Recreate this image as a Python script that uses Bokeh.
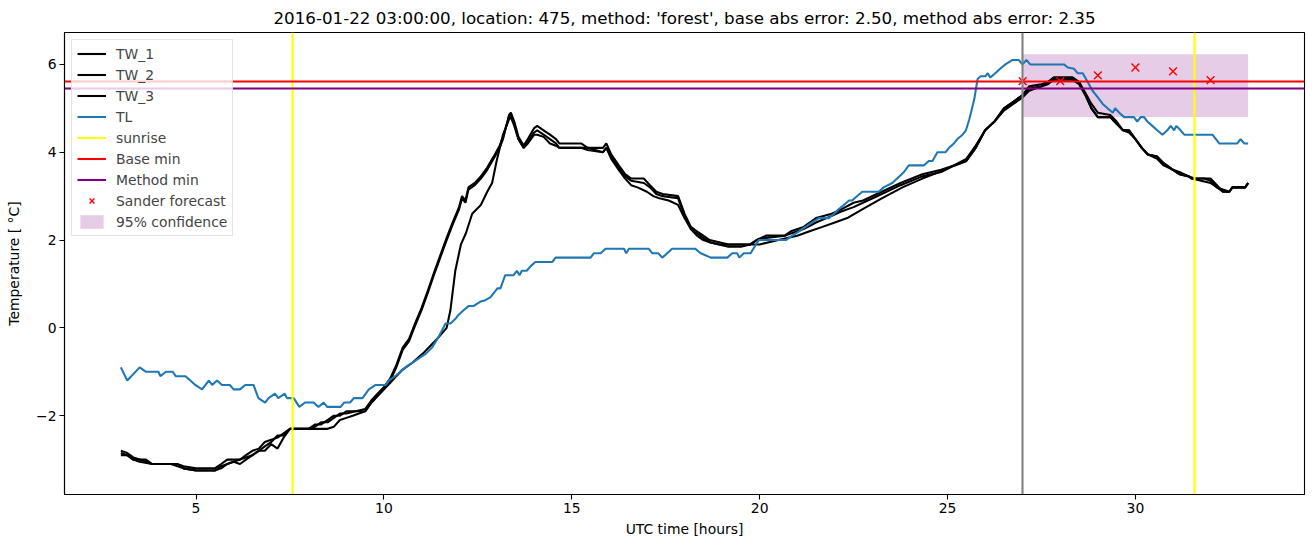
from bokeh.plotting import figure
from bokeh.models import Range1d, FixedTicker, Legend, LegendItem
from bokeh.embed import file_html
from bokeh.resources import INLINE

TITLE = ("2016-01-22 03:00:00, location: 475, method: 'forest', "
         "base abs error: 2.50, method abs error: 2.35")

# ---- data ----
tl_hours = [3.0, 3.17, 3.5, 3.67, 4.0, 4.05, 4.2, 4.38, 4.46, 4.72, 4.85, 4.98, 5.16, 5.34, 5.43,
            5.56, 5.69, 5.9, 6.0, 6.17, 6.31, 6.53, 6.66, 6.84, 6.93, 7.1, 7.19, 7.36, 7.42, 7.6,
            7.75, 7.9, 8.13, 8.26, 8.4, 8.49, 8.85, 8.94, 9.1, 9.2, 9.43, 9.6, 9.78, 10.05, 10.13,
            10.3, 10.57, 10.75, 10.92, 11.1, 11.28, 11.46, 11.64, 11.77, 11.9, 11.99, 12.12, 12.26,
            12.39, 12.57, 12.7, 12.84, 13.02, 13.1, 13.23, 13.45, 13.54, 13.61, 13.67, 13.8, 13.9,
            14.03, 14.48, 14.57, 15.5, 15.59, 15.77, 15.9, 16.39, 16.45, 16.52, 17.05, 17.14, 17.3,
            17.41, 17.54, 17.67, 18.29, 18.43, 18.7, 19.14, 19.27, 19.4, 19.46, 19.58, 19.76, 19.9,
            19.98, 20.7, 20.87, 21.05, 21.22, 21.4, 21.58, 21.84, 21.98, 22.1, 22.24, 22.38, 22.46,
            22.73, 23.17, 23.3, 23.53, 23.66, 23.84, 23.97, 24.37, 24.5, 24.6, 24.73, 24.95, 25.04,
            25.17, 25.26, 25.4, 25.49, 25.58, 25.71, 25.8, 25.88, 26.01, 26.07, 26.14, 26.27, 26.4,
            26.54, 26.72, 26.9, 26.99, 27.1, 27.2, 28.1, 28.2, 28.37, 28.46, 28.6, 28.73, 28.86,
            29.0, 29.13, 29.26, 29.4, 29.46, 29.57, 29.7, 29.96, 30.05, 30.14, 30.23, 30.32, 30.45,
            30.58, 30.72, 30.85, 30.94, 31.03, 31.09, 31.2, 31.3, 32.05, 32.23, 32.71, 32.8, 32.9,
            33.0]
tl_temp = [-0.9, -1.2, -0.9, -1.0, -1.0, -1.1, -1.0, -1.0, -1.1, -1.1, -1.2, -1.3, -1.4, -1.2, -1.3,
           -1.2, -1.3, -1.3, -1.4, -1.4, -1.3, -1.3, -1.6, -1.7, -1.6, -1.5, -1.6, -1.5, -1.6, -1.6,
           -1.8, -1.7, -1.7, -1.8, -1.7, -1.8, -1.8, -1.7, -1.7, -1.6, -1.6, -1.4, -1.3, -1.3, -1.2,
           -1.1, -0.9, -0.8, -0.7, -0.6, -0.45, -0.2, 0.1, 0.1, 0.2, 0.3, 0.4, 0.5,
           0.5, 0.6, 0.63, 0.7, 0.9, 0.9, 1.2, 1.2, 1.3, 1.2, 1.3, 1.3, 1.4,
           1.5, 1.5, 1.6, 1.6, 1.7, 1.7, 1.8, 1.8, 1.7, 1.8, 1.8, 1.7, 1.7,
           1.6, 1.7, 1.8, 1.8, 1.7, 1.6, 1.6, 1.7, 1.7, 1.6, 1.7, 1.7, 1.9,
           2.0, 2.0, 2.1, 2.2, 2.3, 2.4, 2.5, 2.5, 2.6, 2.7, 2.8, 2.9, 2.9,
           3.1, 3.1, 3.2, 3.3, 3.4, 3.55, 3.7, 3.7, 3.8, 3.8, 4.0, 4.0, 4.1,
           4.2, 4.3, 4.4, 4.5, 4.75, 5.2, 5.67, 5.73, 5.73, 5.8, 5.7, 5.8, 5.9,
           6.0, 6.1, 6.1, 6.0, 6.1, 6.0, 6.0, 5.93, 5.9, 5.8, 5.8, 5.6, 5.4,
           5.25, 5.1, 5.0, 4.9, 5.0, 4.9, 4.8, 4.8, 4.7, 4.8, 4.8, 4.7, 4.6,
           4.5, 4.4, 4.5, 4.6, 4.5, 4.6, 4.5, 4.4, 4.4, 4.2, 4.2, 4.3, 4.2,
           4.2]

tw1_hours = [3.0, 3.17, 3.33, 3.5, 3.67, 3.83, 4.17, 4.5, 4.67, 5.0, 5.33, 5.5, 5.67, 5.83, 6.17,
             6.33, 6.5, 6.67, 6.83, 7.0, 7.17, 7.33, 7.5, 8.0, 8.17, 8.33, 8.5, 8.67, 8.83, 9.0,
             9.5, 9.67, 9.83, 10.0, 10.17, 10.33, 10.5, 10.67, 10.83, 11.0, 11.17, 11.33, 11.5,
             11.67, 11.83, 12.0, 12.08, 12.17, 12.25, 12.42, 12.58, 12.75, 12.92, 13.08, 13.17,
             13.33, 13.38, 13.47, 13.58, 13.72, 13.83, 14.0, 14.08, 14.25, 14.42, 14.58, 14.67,
             15.25, 15.42, 15.83, 15.92, 16.05, 16.25, 16.42, 16.58, 16.92, 17.08, 17.25, 17.42,
             17.83, 18.0, 18.17, 18.33, 18.5, 18.67, 18.92, 19.17, 19.75, 19.92, 20.17, 20.67,
             20.83, 21.17, 21.5, 21.92, 22.17, 22.5, 22.75, 23.25, 23.75, 24.33, 24.83, 25.17,
             25.5, 25.75, 26.0, 26.25, 26.5, 26.75, 27.0, 27.17, 27.5, 27.67, 27.83, 28.33, 28.5,
             28.67, 28.83, 29.0, 29.33, 29.5, 29.67, 29.83, 30.0, 30.17, 30.33, 30.58, 30.75,
             31.0, 31.17, 31.42, 31.5, 31.75, 32.0, 32.17, 32.33, 32.5, 32.58, 32.92, 33.0]
tw1_temp = [-2.8, -2.85, -2.95, -3.0, -3.05, -3.1, -3.1, -3.1, -3.15, -3.2, -3.2, -3.2, -3.1, -3.0, -3.0,
            -2.9, -2.8, -2.75, -2.6, -2.55, -2.5, -2.4, -2.3, -2.3, -2.2, -2.2, -2.1, -2.0, -2.0, -1.9,
            -1.9, -1.7, -1.55, -1.4, -1.2, -0.9, -0.5, -0.3, 0.05, 0.4, 0.8, 1.2, 1.6,
            2.0, 2.35, 2.7, 2.95, 2.85, 3.15, 3.25, 3.4, 3.6, 3.85, 4.1, 4.3,
            4.85, 4.9, 4.7, 4.35, 4.15, 4.3, 4.55, 4.6, 4.5, 4.4, 4.3, 4.2,
            4.2, 4.1, 4.1, 4.2, 3.95, 3.7, 3.5, 3.4, 3.4, 3.25, 3.1, 3.05,
            3.0, 2.6, 2.3, 2.2, 2.1, 2.0, 1.95, 1.9, 1.9, 2.0, 2.1, 2.1,
            2.2, 2.3, 2.5, 2.6, 2.7, 2.85, 2.9, 3.1, 3.3, 3.5, 3.6, 3.7,
            3.8, 4.1, 4.5, 4.7, 5.0, 5.15, 5.3, 5.5, 5.55, 5.6, 5.7, 5.7, 5.6,
            5.35, 5.1, 4.9, 4.85, 4.7, 4.5, 4.5, 4.3, 4.1, 3.95, 3.9, 3.75,
            3.6, 3.5, 3.45, 3.4, 3.4, 3.4, 3.25, 3.1, 3.1, 3.2, 3.2, 3.3]

tw2_hours = [3.0, 3.17, 3.33, 3.67, 3.83, 4.5, 4.67, 5.0, 5.5, 5.67, 5.83, 6.0, 6.17, 6.5, 6.67,
             6.83, 7.0, 7.17, 7.33, 7.5, 8.0, 8.17, 8.33, 8.5, 8.67, 8.83, 9.0, 9.5, 9.67, 9.83,
             10.0, 10.17, 10.33, 10.5, 10.67, 10.83, 11.0, 11.17, 11.33, 11.5, 11.67, 11.83, 12.0,
             12.08, 12.17, 12.25, 12.42, 12.58, 12.75, 12.92, 13.08, 13.17, 13.33, 13.38, 13.47,
             13.58, 13.72, 13.83, 14.0, 14.08, 14.25, 14.42, 14.58, 14.67, 15.25, 15.42, 15.83,
             15.92, 16.05, 16.25, 16.42, 16.58, 16.92, 17.08, 17.25, 17.42, 17.83, 18.0, 18.17,
             18.33, 18.5, 18.67, 18.92, 19.17, 19.5, 19.75, 19.92, 20.17, 20.67, 20.83, 21.17,
             21.5, 21.92, 22.17, 22.5, 22.75, 23.25, 23.75, 24.33, 24.83, 25.17, 25.5, 25.75,
             26.0, 26.25, 26.5, 26.75, 27.0, 27.17, 27.5, 27.67, 27.83, 28.33, 28.5, 28.67, 28.83,
             29.0, 29.33, 29.5, 29.67, 29.83, 30.0, 30.17, 30.33, 30.58, 30.75, 31.0, 31.17,
             31.42, 31.5, 31.75, 32.0, 32.17, 32.33, 32.5, 32.58, 32.92, 33.0]
tw2_temp = [-2.85, -2.9, -3.0, -3.0, -3.1, -3.1, -3.2, -3.25, -3.25, -3.15, -3.1, -3.05, -3.0, -2.9, -2.8,
            -2.7, -2.6, -2.45, -2.45, -2.3, -2.3, -2.25, -2.15, -2.15, -2.05, -1.95, -1.95, -1.85, -1.65, -1.5,
            -1.35, -1.15, -0.85, -0.45, -0.25, 0.1, 0.45, 0.85, 1.25, 1.65, 2.05, 2.4, 2.75,
            3.0, 2.9, 3.2, 3.3, 3.45, 3.65, 3.9, 4.15, 4.35, 4.8, 4.85, 4.65,
            4.3, 4.1, 4.25, 4.45, 4.5, 4.4, 4.3, 4.2, 4.1, 4.1, 4.1, 4.0,
            4.1, 3.9, 3.65, 3.45, 3.35, 3.3, 3.2, 3.05, 3.0, 2.95, 2.55, 2.25,
            2.15, 2.05, 1.95, 1.9, 1.85, 1.85, 1.9, 2.0, 2.05, 2.1, 2.15, 2.25,
            2.4, 2.55, 2.65, 2.75, 2.85, 3.05, 3.25, 3.45, 3.55, 3.7, 3.85, 4.15,
            4.5, 4.7, 4.95, 5.1, 5.25, 5.4, 5.5, 5.55, 5.65, 5.65, 5.55, 5.3, 5.0,
            4.8, 4.8, 4.65, 4.5, 4.45, 4.3, 4.1, 3.95, 3.85, 3.7, 3.6, 3.5,
            3.45, 3.4, 3.35, 3.3, 3.2, 3.15, 3.1, 3.2, 3.2, 3.3]

tw3_hours = [3.0, 3.17, 3.33, 3.5, 3.83, 4.33, 4.67, 5.0, 5.5, 5.67, 5.83, 6.0, 6.17, 6.33, 6.5,
             6.67, 6.83, 7.0, 7.17, 7.33, 7.5, 8.0, 8.17, 8.5, 8.67, 8.83, 9.0, 9.17, 9.5, 9.67,
             9.83, 10.0, 10.17, 10.33, 10.5, 10.75, 11.08, 11.42, 11.67, 11.77, 11.9, 12.05, 12.18,
             12.35, 12.58, 12.75, 12.88, 13.0, 13.17, 13.33, 13.38, 13.47, 13.58, 13.72, 13.83,
             14.0, 14.08, 14.25, 14.42, 14.58, 14.67, 15.25, 15.42, 15.83, 15.92, 16.05, 16.25,
             16.42, 16.58, 16.75, 17.0, 17.17, 17.33, 17.58, 17.83, 18.0, 18.17, 18.33, 18.5,
             18.67, 18.92, 19.5, 20.0, 20.5, 21.0, 21.33, 21.67, 22.0, 22.33, 22.73, 23.25, 23.8,
             24.33, 24.86, 25.2, 25.5, 25.75, 26.0, 26.25, 26.5, 26.75, 27.0, 27.17, 27.5, 27.67,
             27.83, 28.33, 28.5, 28.67, 28.83, 29.0, 29.33, 29.5, 29.67, 29.83, 30.0, 30.17,
             30.33, 30.58, 30.75, 31.0, 31.17, 31.42, 31.58, 31.83, 32.0, 32.17, 32.33, 32.5,
             32.58, 32.92, 33.0]
tw3_temp = [-2.9, -2.9, -3.0, -3.05, -3.1, -3.1, -3.2, -3.25, -3.25, -3.2, -3.1, -3.05, -3.1, -3.0, -2.9,
            -2.8, -2.8, -2.65, -2.75, -2.5, -2.3, -2.3, -2.3, -2.3, -2.25, -2.1, -2.05, -2.0, -1.9, -1.7,
            -1.55, -1.4, -1.25, -1.1, -0.95, -0.8, -0.55, -0.25, 0.0, 0.4, 1.3, 1.9, 2.15,
            2.6, 2.8, 3.1, 3.3, 3.8, 4.4, 4.75, 4.8, 4.6, 4.3, 4.1, 4.2,
            4.4, 4.4, 4.35, 4.2, 4.15, 4.1, 4.1, 4.05, 4.0, 4.1, 3.85, 3.6,
            3.4, 3.25, 3.2, 3.1, 3.0, 2.95, 2.9, 2.8, 2.5, 2.25, 2.1, 2.0,
            1.95, 1.9, 1.9, 1.9, 2.0, 2.1, 2.2, 2.3, 2.4, 2.5, 2.7, 2.95, 3.2,
            3.4, 3.58, 3.7, 3.8, 4.1, 4.5, 4.7, 5.0, 5.15, 5.3, 5.45, 5.5, 5.6,
            5.7, 5.7, 5.6, 5.3, 5.0, 4.8, 4.8, 4.65, 4.5, 4.5, 4.3, 4.1,
            3.95, 3.9, 3.75, 3.6, 3.55, 3.45, 3.4, 3.4, 3.35, 3.2, 3.1, 3.1,
            3.2, 3.2, 3.3]

sunrise_hours = [7.58, 31.58]
now_hour = [27.0]
base_min = [5.61]
method_min = [5.46]
forecast_hours = [27, 28, 29, 30, 31, 32]
forecast_temp = [5.62, 5.62, 5.75, 5.93, 5.84, 5.64]
conf_hours = [27.0, 33.0]
conf_low = [4.8, 4.8]
conf_high = [6.23, 6.23]

x_ticks = [5, 10, 15, 20, 25, 30]
y_ticks = [-2, 0, 2, 4, 6]
x_limits = (1.5, 34.5)
y_limits = (-3.795, 6.727)

FONT = "DejaVu Sans"
LW = 2.08  # 1.5 pt at 100 dpi

p = figure(width=1313, height=547, output_backend="svg", toolbar_location=None,
           x_range=Range1d(*x_limits), y_range=Range1d(*y_limits),
           min_border_left=64, min_border_right=9, min_border_top=31, min_border_bottom=53)
p.title.text = TITLE
p.title.align = "center"
p.title.text_font = FONT
p.title.text_font_size = "16.7px"
p.title.text_font_style = "normal"
p.title.text_color = "black"

p.xgrid.visible = False
p.ygrid.visible = False
p.outline_line_color = "black"
p.outline_line_alpha = 1
p.outline_line_width = 1.1
p.background_fill_color = "white"
p.border_fill_color = "white"

for ax in (p.xaxis[0], p.yaxis[0]):
    ax.major_tick_in = 0
    ax.major_tick_out = 5
    ax.major_tick_line_width = 1.1
    ax.axis_line_width = 1.1
    ax.minor_tick_line_color = None
    ax.major_label_text_font = FONT
    ax.major_label_text_font_size = "13.9px"
    ax.major_label_text_color = "black"
    ax.axis_label_text_font = FONT
    ax.axis_label_text_font_size = "13.9px"
    ax.axis_label_text_font_style = "normal"
    ax.axis_label_text_color = "black"
    ax.axis_line_color = "black"
    ax.major_tick_line_color = "black"
    ax.major_label_standoff = 3

p.xaxis.ticker = FixedTicker(ticks=x_ticks)
p.yaxis.ticker = FixedTicker(ticks=y_ticks)
p.yaxis.major_label_overrides = {t: (str(t).replace("-", "\u2212")) for t in y_ticks}
p.xaxis.axis_label = "UTC time [hours]"
p.yaxis.axis_label = "Temperature [ \u00b0C]"
p.xaxis.axis_label_standoff = 5
p.yaxis.axis_label_standoff = 11

# confidence band (behind)
band = p.varea(x=conf_hours, y1=conf_low, y2=conf_high, fill_color="purple", fill_alpha=0.2)

r_tw1 = p.line(tw1_hours, tw1_temp, line_color="black", line_width=LW)
r_tw2 = p.line(tw2_hours, tw2_temp, line_color="black", line_width=LW)
r_tw3 = p.line(tw3_hours, tw3_temp, line_color="black", line_width=LW)
r_tl = p.line(tl_hours, tl_temp, line_color="#1f77b4", line_width=LW)

r_sun = p.vspan(x=sunrise_hours, line_color="yellow", line_width=LW)
r_base = p.hspan(y=base_min, line_color="red", line_width=LW)
r_meth = p.hspan(y=method_min, line_color="purple", line_width=LW)

r_fc = p.scatter(forecast_hours, forecast_temp, marker="x", size=11, line_color="red", line_width=1.4)

p.vspan(x=now_hour, line_color="gray", line_width=LW)

legend = Legend(items=[
    LegendItem(label="TW_1", renderers=[r_tw1]),
    LegendItem(label="TW_2", renderers=[r_tw2]),
    LegendItem(label="TW_3", renderers=[r_tw3]),
    LegendItem(label="TL", renderers=[r_tl]),
    LegendItem(label="sunrise", renderers=[r_sun]),
    LegendItem(label="Base min", renderers=[r_base]),
    LegendItem(label="Method min", renderers=[r_meth]),
    LegendItem(label="Sander forecast", renderers=[r_fc]),
    LegendItem(label="95% confidence", renderers=[band]),
], location="top_left")
legend.margin = 7
legend.padding = 5
legend.spacing = 4
legend.glyph_width = 29
legend.glyph_height = 17
legend.label_height = 17
legend.label_standoff = 10
legend.label_text_font = FONT
legend.label_text_font_size = "13.9px"
legend.background_fill_alpha = 0.8
legend.border_line_color = "#cccccc"
legend.border_line_width = 1
p.add_layout(legend)

open("out.html", "w").write(file_html(p, INLINE))
